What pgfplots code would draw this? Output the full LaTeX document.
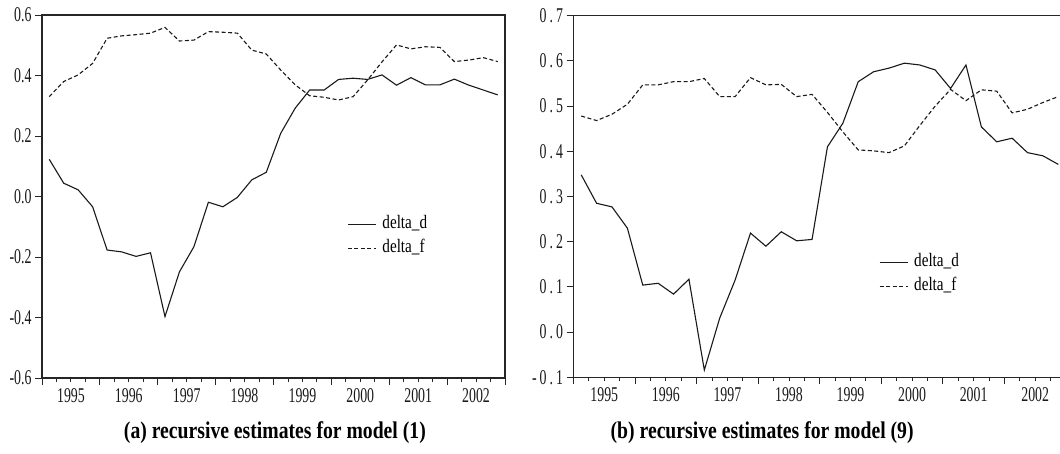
\documentclass[border=0pt]{standalone}
\usepackage{fontspec}
\setmainfont{Liberation Serif}[FakeStretch=0.66]
\newfontfamily\legfont{Liberation Serif}[FakeStretch=0.8]
\newfontfamily\capfont{Liberation Serif}[FakeStretch=0.82]
\usepackage{pgfplots}
\usepackage{pgfplotstable}
\pgfplotsset{compat=1.18}
\newcommand\lsp{\kern3bp}

% quarterly recursive estimates, 1995Q1--2002Q4 (x = quarter index + 0.5)
\pgfplotstableread{
x    dd      df
0.5  0.123   0.330
1.5  0.044   0.380
2.5  0.022   0.402
3.5  -0.034  0.440
4.5  -0.177  0.523
5.5  -0.183  0.531
6.5  -0.198  0.535
7.5  -0.186  0.540
8.5  -0.397  0.559
9.5  -0.249  0.514
10.5 -0.166  0.517
11.5 -0.019  0.545
12.5 -0.034  0.543
13.5 -0.003  0.540
14.5 0.055   0.484
15.5 0.080   0.471
16.5 0.209   0.418
17.5 0.292   0.369
18.5 0.352   0.333
19.5 0.352   0.328
20.5 0.387   0.319
21.5 0.391   0.330
22.5 0.387   0.385
23.5 0.402   0.445
24.5 0.368   0.501
25.5 0.393   0.488
26.5 0.369   0.495
27.5 0.369   0.493
28.5 0.388   0.446
29.5 0.368   0.451
30.5 0.352   0.459
31.5 0.336   0.446
}\modelone

\pgfplotstableread{
x    dd      df
0.5  0.348   0.478
1.5  0.285   0.468
2.5  0.277   0.482
3.5  0.230   0.504
4.5  0.104   0.547
5.5  0.108   0.547
6.5  0.084   0.554
7.5  0.117   0.554
8.5  -0.084  0.561
9.5  0.031   0.521
10.5 0.115   0.521
11.5 0.219   0.563
12.5 0.190   0.547
13.5 0.222   0.548
14.5 0.202   0.521
15.5 0.205   0.526
16.5 0.410   0.486
17.5 0.462   0.443
18.5 0.554   0.403
19.5 0.576   0.401
20.5 0.584   0.397
21.5 0.595   0.412
22.5 0.591   0.457
23.5 0.580   0.500
24.5 0.539   0.537
25.5 0.591   0.512
26.5 0.454   0.536
27.5 0.421   0.533
28.5 0.429   0.485
29.5 0.397   0.493
30.5 0.390   0.508
31.5 0.371   0.521
}\modelnine

\pgfplotsset{
  recest/.style={
    scale only axis,
    anchor=south west,
    xmin=0, xmax=32,
    xtick={0,4,...,32},
    xticklabels={1995,1996,1997,1998,1999,2000,2001,2002},
    x tick label as interval,
    minor x tick num=3,
    tick pos=left,
    tick align=outside,
    major tick length=7bp,
    minor tick length=4bp,
    axis line style={line width=1.2bp, color=black!85},
    tick style={line width=0.9bp, color=black!85},
    tick label style={font=\fontsize{21bp}{23bp}\selectfont, color=black!90},
    legend cell align=left,
    legend image code/.code={\draw[##1] (0bp,0bp) -- (28bp,0bp);},
    legend style={draw=none, fill=none, inner sep=0pt, row sep=6bp,
      font=\fontsize{19bp}{21bp}\legfont,
      /tikz/every odd column/.append style={column sep=5bp},
      nodes={inner sep=1bp, text height=12bp, text depth=4bp}},
  },
  caption/.style={every axis x label/.style={at={(axis description cs:#1,0)},
      anchor=center, yshift=-55bp, font=\fontsize{24bp}{26bp}\capfont\bfseries}},
  dline/.style={line width=1.1bp, color=black!90},
  fline/.style={line width=1.1bp, color=black!90, dash pattern=on 4bp off 2.5bp},
}

\begin{document}
\begin{tikzpicture}
\begin{axis}[recest,
    at={(42bp,76bp)}, width=463bp, height=363bp,
    ymin=-0.6, ymax=0.6,
    ytick={-0.6,-0.4,-0.2,0,0.2,0.4,0.6},
    yticklabels={-0.6,-0.4,-0.2,0.0,0.2,0.4,0.6},
    legend style={at={(0.659,0.447)}, anchor=north west},
    caption=0.503,
    xlabel={(a) recursive estimates for model (1)},
]
\addplot[dline] table[x=x, y=dd] {\modelone};
\addlegendentry{delta\_d}
\addplot[fline] table[x=x, y=df] {\modelone};
\addlegendentry{delta\_f}
\end{axis}

\begin{axis}[recest,
    at={(573.5bp,76.7bp)}, width=492.5bp, height=361.6bp,
    ymin=-0.1, ymax=0.7,
    ytick={-0.1,0,0.1,0.2,0.3,0.4,0.5,0.6,0.7},
    yticklabels={-\lsp0\lsp.\lsp1,0\lsp.\lsp0,0\lsp.\lsp1,0\lsp.\lsp2,0\lsp.\lsp3,0\lsp.\lsp4,0\lsp.\lsp5,0\lsp.\lsp6,0\lsp.\lsp7},
    legend style={at={(0.620,0.344)}, anchor=north west},
    caption=0.383,
    xlabel={(b) recursive estimates for model (9)},
]
\addplot[dline] table[x=x, y=dd] {\modelnine};
\addlegendentry{delta\_d}
\addplot[fline] table[x=x, y=df] {\modelnine};
\addlegendentry{delta\_f}
\end{axis}
\pgfresetboundingbox
\path[use as bounding box] (0bp,0bp) rectangle (1060bp,454bp);
\end{tikzpicture}
\end{document}
